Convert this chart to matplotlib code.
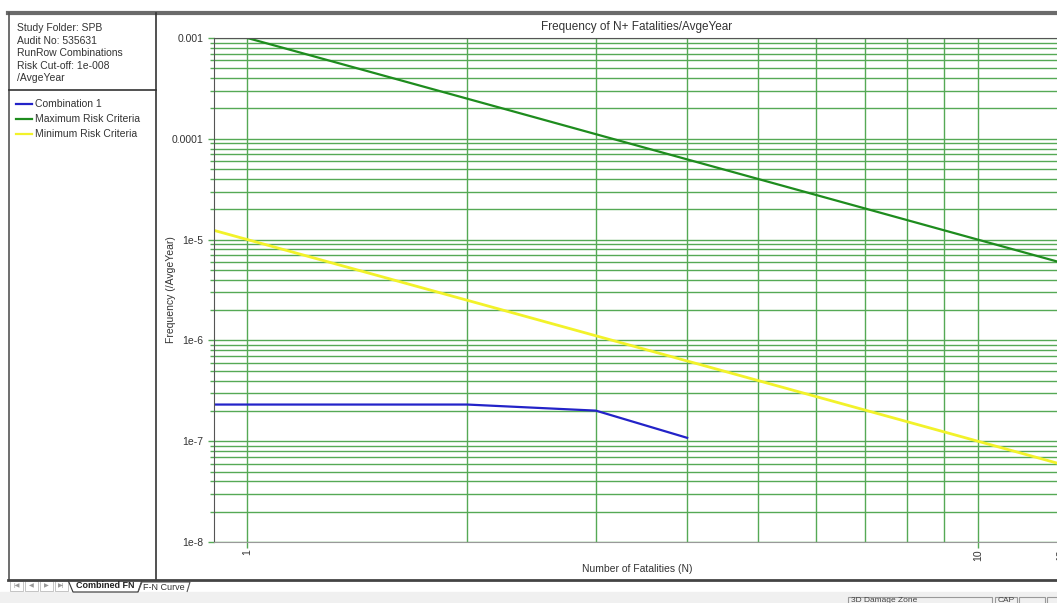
import numpy as np
import matplotlib.pyplot as plt
from matplotlib.lines import Line2D
from matplotlib.patches import Rectangle, Polygon
from matplotlib.ticker import LogLocator, NullFormatter, FixedLocator

plt.rcParams['font.family'] = ['Liberation Sans', 'DejaVu Sans']

# series data
n_combo = [0.9, 2, 3, 4]
f_combo = [2.31e-7, 2.31e-7, 2.01e-7, 1.08e-7]

n_crit = [0.9, 13]
f_max = [1e-3 / n ** 2 for n in n_crit]
f_min = [1e-5 / n ** 2 for n in n_crit]

info_lines = ['Study Folder: SPB', 'Audit No: 535631', 'RunRow Combinations',
              'Risk Cut-off: 1e-008', '/AvgeYear']
legend_names = ['Combination 1', 'Maximum Risk Criteria', 'Minimum Risk Criteria']
legend_colors = ['#2323c8', '#1e8c1e', '#f2f22a']

x_ticks = [1, 10, 13]
x_ticklabels = ['1', '10', '13']
y_ticks = [1e-8, 1e-7, 1e-6, 1e-5, 1e-4, 1e-3]
y_ticklabels = ['1e-8', '1e-7', '1e-6', '1e-5', '0.0001', '0.001']

W, H = 1057, 603
fig = plt.figure(figsize=(W / 100, H / 100), dpi=100)


def fx(px):
    return px / W


def fy(py):
    return 1 - py / H


ax = fig.add_axes([fx(214), fy(542), fx(1061 - 214), fy(38) - fy(542)])
ax.set_xscale('log')
ax.set_yscale('log')
ax.set_xlim(0.9, 13)
ax.set_ylim(1e-8, 1e-3)

grid_col = '#55a955'
ax.xaxis.set_major_locator(FixedLocator(x_ticks))
ax.set_xticklabels(x_ticklabels, rotation=90, fontsize=7.5)
ax.xaxis.set_minor_locator(FixedLocator([2, 3, 4, 5, 6, 7, 8, 9]))
ax.xaxis.set_minor_formatter(NullFormatter())
ax.yaxis.set_major_locator(FixedLocator(y_ticks))
ax.set_yticklabels(y_ticklabels, fontsize=7.5)
ax.yaxis.set_minor_locator(LogLocator(base=10, subs=np.arange(2, 10)))
ax.yaxis.set_minor_formatter(NullFormatter())

ax.grid(True, which='both', color=grid_col, linewidth=1.0)
ax.tick_params(axis='both', which='both', direction='out', length=4, colors=grid_col,
               labelcolor='#333333', width=1)
ax.tick_params(axis='x', which='major', pad=1)
ax.tick_params(axis='x', which='minor', length=0)
ax.tick_params(axis='y', which='minor', length=3)
ax.set_axisbelow(True)
for side in ['left', 'top']:
    ax.spines[side].set_color('#555555')
ax.spines['bottom'].set_color('#999999')
ax.spines['right'].set_visible(False)

ax.plot(n_crit, f_max, color=legend_colors[1], linewidth=1.6)
ax.plot(n_crit, f_min, color=legend_colors[2], linewidth=2.0)
ax.plot(n_combo, f_combo, color=legend_colors[0], linewidth=1.6)

fig.text(fx(637), fy(27), 'Frequency of N+ Fatalities/AvgeYear', ha='center', va='center',
         fontsize=8.5, color='#333333')
fig.text(fx(637), fy(569), 'Number of Fatalities (N)', ha='center', va='center',
         fontsize=7.5, color='#333333')
fig.text(fx(171), fy(290), 'Frequency (/AvgeYear)', ha='center', va='center',
         fontsize=7.5, color='#333333', rotation=90)

# window frame
fig.add_artist(Line2D([fx(8), fx(W)], [fy(13), fy(13)], color='#6b6b6b', linewidth=3))
fig.add_artist(Line2D([fx(9), fx(9)], [fy(13), fy(580)], color='#555555', linewidth=1.2))
fig.add_artist(Line2D([fx(156), fx(156)], [fy(13), fy(580)], color='#333333', linewidth=1.2))
fig.add_artist(Line2D([fx(9), fx(156)], [fy(90), fy(90)], color='#333333', linewidth=1.2))
fig.add_artist(Line2D([fx(8), fx(W)], [fy(580), fy(580)], color='#444444', linewidth=2))

# info block
for i, t in enumerate(info_lines):
    fig.text(fx(17), fy(28 + i * 12.6), t, ha='left', va='center', fontsize=7.5, color='#333333')

# legend
for i, (name, col) in enumerate(zip(legend_names, legend_colors)):
    yy = fy(104 + i * 15)
    fig.add_artist(Line2D([fx(16), fx(32)], [yy, yy], color=col, linewidth=1.6))
    fig.text(fx(35), yy, name, ha='left', va='center', fontsize=7.5, color='#333333')

# tab bar and status bar
fig.add_artist(Rectangle((0, fy(603)), 1, fy(592) - fy(603), color='#f0f0f0', zorder=0))
for i, s in enumerate(['|◀', '◀', '▶', '▶|']):
    x0 = 10 + i * 15
    fig.add_artist(Rectangle((fx(x0), fy(591)), fx(13), fy(581) - fy(591), fill=False,
                             edgecolor='#bbbbbb', linewidth=0.6))
    fig.text(fx(x0 + 6.5), fy(586), s, ha='center', va='center', fontsize=4.5, color='#999999')
fig.add_artist(Polygon([[fx(68), fy(580)], [fx(73), fy(592)], [fx(138), fy(592)],
                        [fx(142), fy(580)]], closed=False, fill=False, edgecolor='#333333',
                       linewidth=0.8))
fig.text(fx(105), fy(586), 'Combined FN', ha='center', va='center', fontsize=6.5,
         fontweight='bold', color='#222222')
fig.add_artist(Polygon([[fx(138), fy(592)], [fx(142), fy(582)], [fx(190), fy(582)],
                        [fx(187), fy(592)]], closed=False, fill=False, edgecolor='#555555',
                       linewidth=0.8))
fig.text(fx(164), fy(587), 'F-N Curve', ha='center', va='center', fontsize=6.5, color='#333333')
for x0, x1 in [(848, 992), (995, 1017), (1019, 1045), (1047, 1060)]:
    fig.add_artist(Rectangle((fx(x0), fy(605)), fx(x1 - x0), fy(597) - fy(605), fill=False,
                             edgecolor='#999999', linewidth=0.8))
fig.text(fx(851), fy(601), '3D Damage Zone', ha='left', va='center', fontsize=6, color='#444444')
fig.text(fx(998), fy(601), 'CAP', ha='left', va='center', fontsize=6, color='#444444')

fig.savefig('out.png', dpi=100)
